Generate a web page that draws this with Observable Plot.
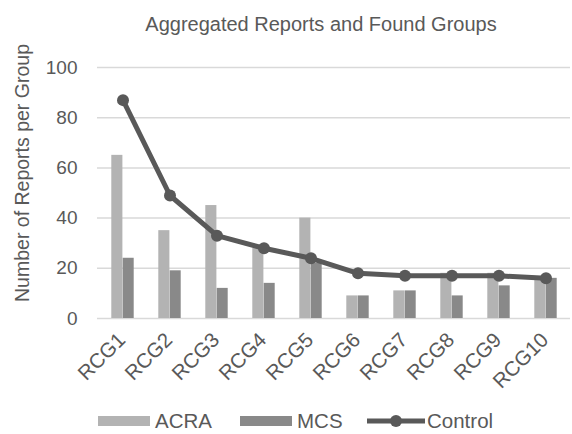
<!DOCTYPE html>
<html>
<head>
<meta charset="utf-8">
<script src="https://cdn.jsdelivr.net/npm/d3@7"></script>
<script src="https://cdn.jsdelivr.net/npm/@observablehq/plot@0.6"></script>
<style>
  body { margin: 0; background: #fff; font-family: "Liberation Sans", Arial, sans-serif; color: #595959; }
  #wrap { position: relative; width: 572px; height: 434px; overflow: hidden; }
  #title { position: absolute; left: 0; top: 2px; width: 572px; height: 44px; line-height: 44px; text-align: center; font-size: 20px; padding-left: 70px; box-sizing: border-box; }
  #chart { position: absolute; left: 0; top: 44px; }
  #legend { position: absolute; left: 0; top: 406px; width: 572px; height: 30px; font-size: 20.5px; }
  .item { position: absolute; top: 0; height: 30px; display: flex; align-items: center; }
</style>
</head>
<body>
<div id="wrap">
  <div id="title"></div>
  <div id="chart"></div>
  <div id="legend"></div>
</div>
<script>
const titleText = "Aggregated Reports and Found Groups";
const yLabel = "Number of Reports per Group";
const categories = ["RCG1","RCG2","RCG3","RCG4","RCG5","RCG6","RCG7","RCG8","RCG9","RCG10"];
const seriesNames = ["ACRA", "MCS", "Control"];
const acra = [65, 35, 45, 28, 40, 9, 11, 18, 18, 16];
const mcs = [24, 19, 12, 14, 22, 9, 11, 9, 13, 16];
const control = [87, 49, 33, 28, 24, 18, 17, 17, 17, 16];
const yTicks = [0, 20, 40, 60, 80, 100];

const colors = { ACRA: "#b3b3b3", MCS: "#898989", Control: "#595959" };

const rows = categories.map((c, i) => ({ cat: c, acra: acra[i], mcs: mcs[i], control: control[i] }));

document.getElementById("title").textContent = titleText;

const chart = Plot.plot({
  width: 572,
  height: 356,
  marginLeft: 97,
  marginRight: 2,
  marginTop: 23,
  marginBottom: 82,
  style: { fontSize: "19px", fontFamily: "Liberation Sans, Arial, sans-serif", color: "#595959", background: "#fff", overflow: "visible" },
  x: { type: "band", domain: categories, padding: 0, label: null },
  y: { domain: [0, 100], label: null },
  marks: [
    Plot.gridY(yTicks, { stroke: "#d9d9d9", strokeOpacity: 1, strokeWidth: 1.5 }),
    Plot.axisY(yTicks, { tickSize: 0, tickPadding: 20, label: null }),
    Plot.axisX({ tickSize: 0, tickPadding: 18, dx: -1, tickRotate: -45, fontSize: 20.5, label: null }),
    Plot.barY(rows, { x: "cat", y: "acra", fill: colors.ACRA, insetLeft: 12.3, insetRight: 23.6 }),
    Plot.barY(rows, { x: "cat", y: "mcs", fill: colors.MCS, insetLeft: 23.7, insetRight: 12.3 }),
    Plot.line(rows, { x: "cat", y: "control", stroke: colors.Control, strokeWidth: 5 }),
    Plot.dot(rows, { x: "cat", y: "control", fill: colors.Control, r: 6 }),
    Plot.text([yLabel], { frameAnchor: "left", textAnchor: "middle", dx: -75, dy: -20, rotate: -90, fill: "#595959", fontSize: 19.5 })
  ]
});
document.getElementById("chart").appendChild(chart);

// legend
const legend = document.getElementById("legend");
const items = [
  { name: seriesNames[0], type: "bar", color: colors.ACRA, left: 98 },
  { name: seriesNames[1], type: "bar", color: colors.MCS, left: 240 },
  { name: seriesNames[2], type: "line", color: colors.Control, left: 367 }
];
items.forEach(it => {
  const d = document.createElement("div");
  d.className = "item";
  d.style.left = it.left + "px";
  if (it.type === "bar") {
    d.innerHTML = `<svg width="52" height="10" style="margin-right:5px"><rect width="52" height="10" fill="${it.color}"/></svg><span>${it.name}</span>`;
  } else {
    d.innerHTML = `<svg width="58" height="14" style="margin-right:2px"><line x1="0" x2="58" y1="7" y2="7" stroke="${it.color}" stroke-width="5" stroke-linecap="round"/><circle cx="29" cy="7" r="6" fill="${it.color}"/></svg><span>${it.name}</span>`;
  }
  legend.appendChild(d);
});
</script>
</body>
</html>
